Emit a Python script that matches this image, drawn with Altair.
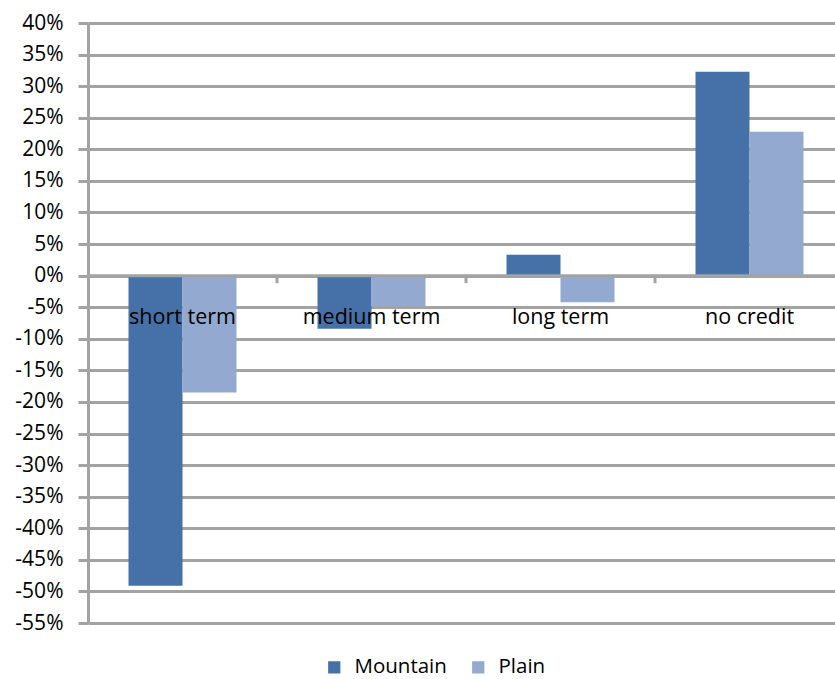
import altair as alt
import pandas as pd

# Share change by credit type, two regions
categories = ["short term", "medium term", "long term", "no credit"]
mountain = [-49.1, -8.4, 3.3, 32.3]
plain = [-18.5, -4.8, -4.2, 22.8]
series_names = ["Mountain", "Plain"]
series_colors = ["#4570A8", "#93A9CF"]
y_ticks = list(range(-55, 45, 5))

rows = []
for i, cat in enumerate(categories):
    rows.append({"category": cat, "idx": i, "series": "Mountain", "value": mountain[i], "slot": 0})
    rows.append({"category": cat, "idx": i, "series": "Plain", "value": plain[i], "slot": 1})
bars_df = pd.DataFrame(rows)
cats_df = pd.DataFrame({"category": categories, "idx": list(range(len(categories)))})

FONT = "Open Sans"
GRID = "#A3A3A3"
BAR_W = 1 / 3.5  # bar width as a fraction of one category slot

x_scale = alt.Scale(domain=[0, 747 / 189], nice=False, zero=False)
y_scale = alt.Scale(domain=[-55, 40], nice=False)
y_axis = alt.Axis(values=y_ticks, labelExpr="datum.value + '%'", title=None)

base = alt.Chart(bars_df)

bars = base.transform_calculate(
    x0=f"datum.idx + 0.5 - {BAR_W} + datum.slot * {BAR_W}",
    x1=f"datum.idx + 0.5 + datum.slot * {BAR_W}",
).mark_bar(clip=True).encode(
    x=alt.X("x0:Q", scale=x_scale, axis=None),
    x2="x1:Q",
    y=alt.Y("value:Q", scale=y_scale, axis=y_axis),
    y2=alt.datum(0),
    color=alt.Color(
        "series:N",
        scale=alt.Scale(domain=series_names, range=series_colors),
        legend=alt.Legend(
            title=None,
            orient="none",
            direction="horizontal",
            legendX=236,
            legendY=634,
            symbolType="square",
            symbolSize=150,
            symbolStrokeWidth=0,
            labelFont=FONT,
            labelFontSize=20.5,
            labelColor="#000000",
            columnPadding=21,
            symbolOffset=0,
            labelOffset=10,
        ),
    ),
)

zero_line = alt.Chart(pd.DataFrame({"v": [0]})).mark_rule(
    color=GRID, strokeWidth=3
).encode(y=alt.Y("v:Q", scale=y_scale, axis=y_axis))

boundary_ticks = alt.Chart(cats_df).transform_filter("datum.idx > 0").mark_rule(
    color=GRID, strokeWidth=3
).encode(
    x=alt.X("idx:Q", scale=x_scale, axis=None),
    y=alt.Y(datum=0, scale=y_scale, axis=y_axis),
    y2=alt.datum(-1.2),
)

labels = alt.Chart(cats_df).transform_calculate(
    xc="datum.idx + 0.5"
).mark_text(
    font=FONT, fontSize=21.5, color="#000000", baseline="alphabetic", dy=48, clip=True
).encode(
    x=alt.X("xc:Q", scale=x_scale, axis=None),
    y=alt.Y(datum=0, scale=y_scale, axis=y_axis),
    text="category:N",
)

chart = alt.layer(bars, zero_line, boundary_ticks, labels).properties(
    width=747,
    height=600,
    autosize=alt.AutoSizeParams(type="none"),
    padding={"left": 88, "top": 23, "right": 0, "bottom": 56},
    background="white",
).configure_view(stroke=None).configure_axisY(
    labelOverlap=False,
    labelBound=False,
    labelFlush=False,
    grid=True,
    gridColor=GRID,
    gridWidth=3,
    domainColor=GRID,
    domainWidth=3,
    tickColor=GRID,
    tickWidth=3,
    tickSize=10,
    labelPadding=15,
    labelFont=FONT,
    labelFontSize=21,
    labelColor="#000000",
)

chart.save("out.html", embed_options={"renderer": "svg", "actions": False})
